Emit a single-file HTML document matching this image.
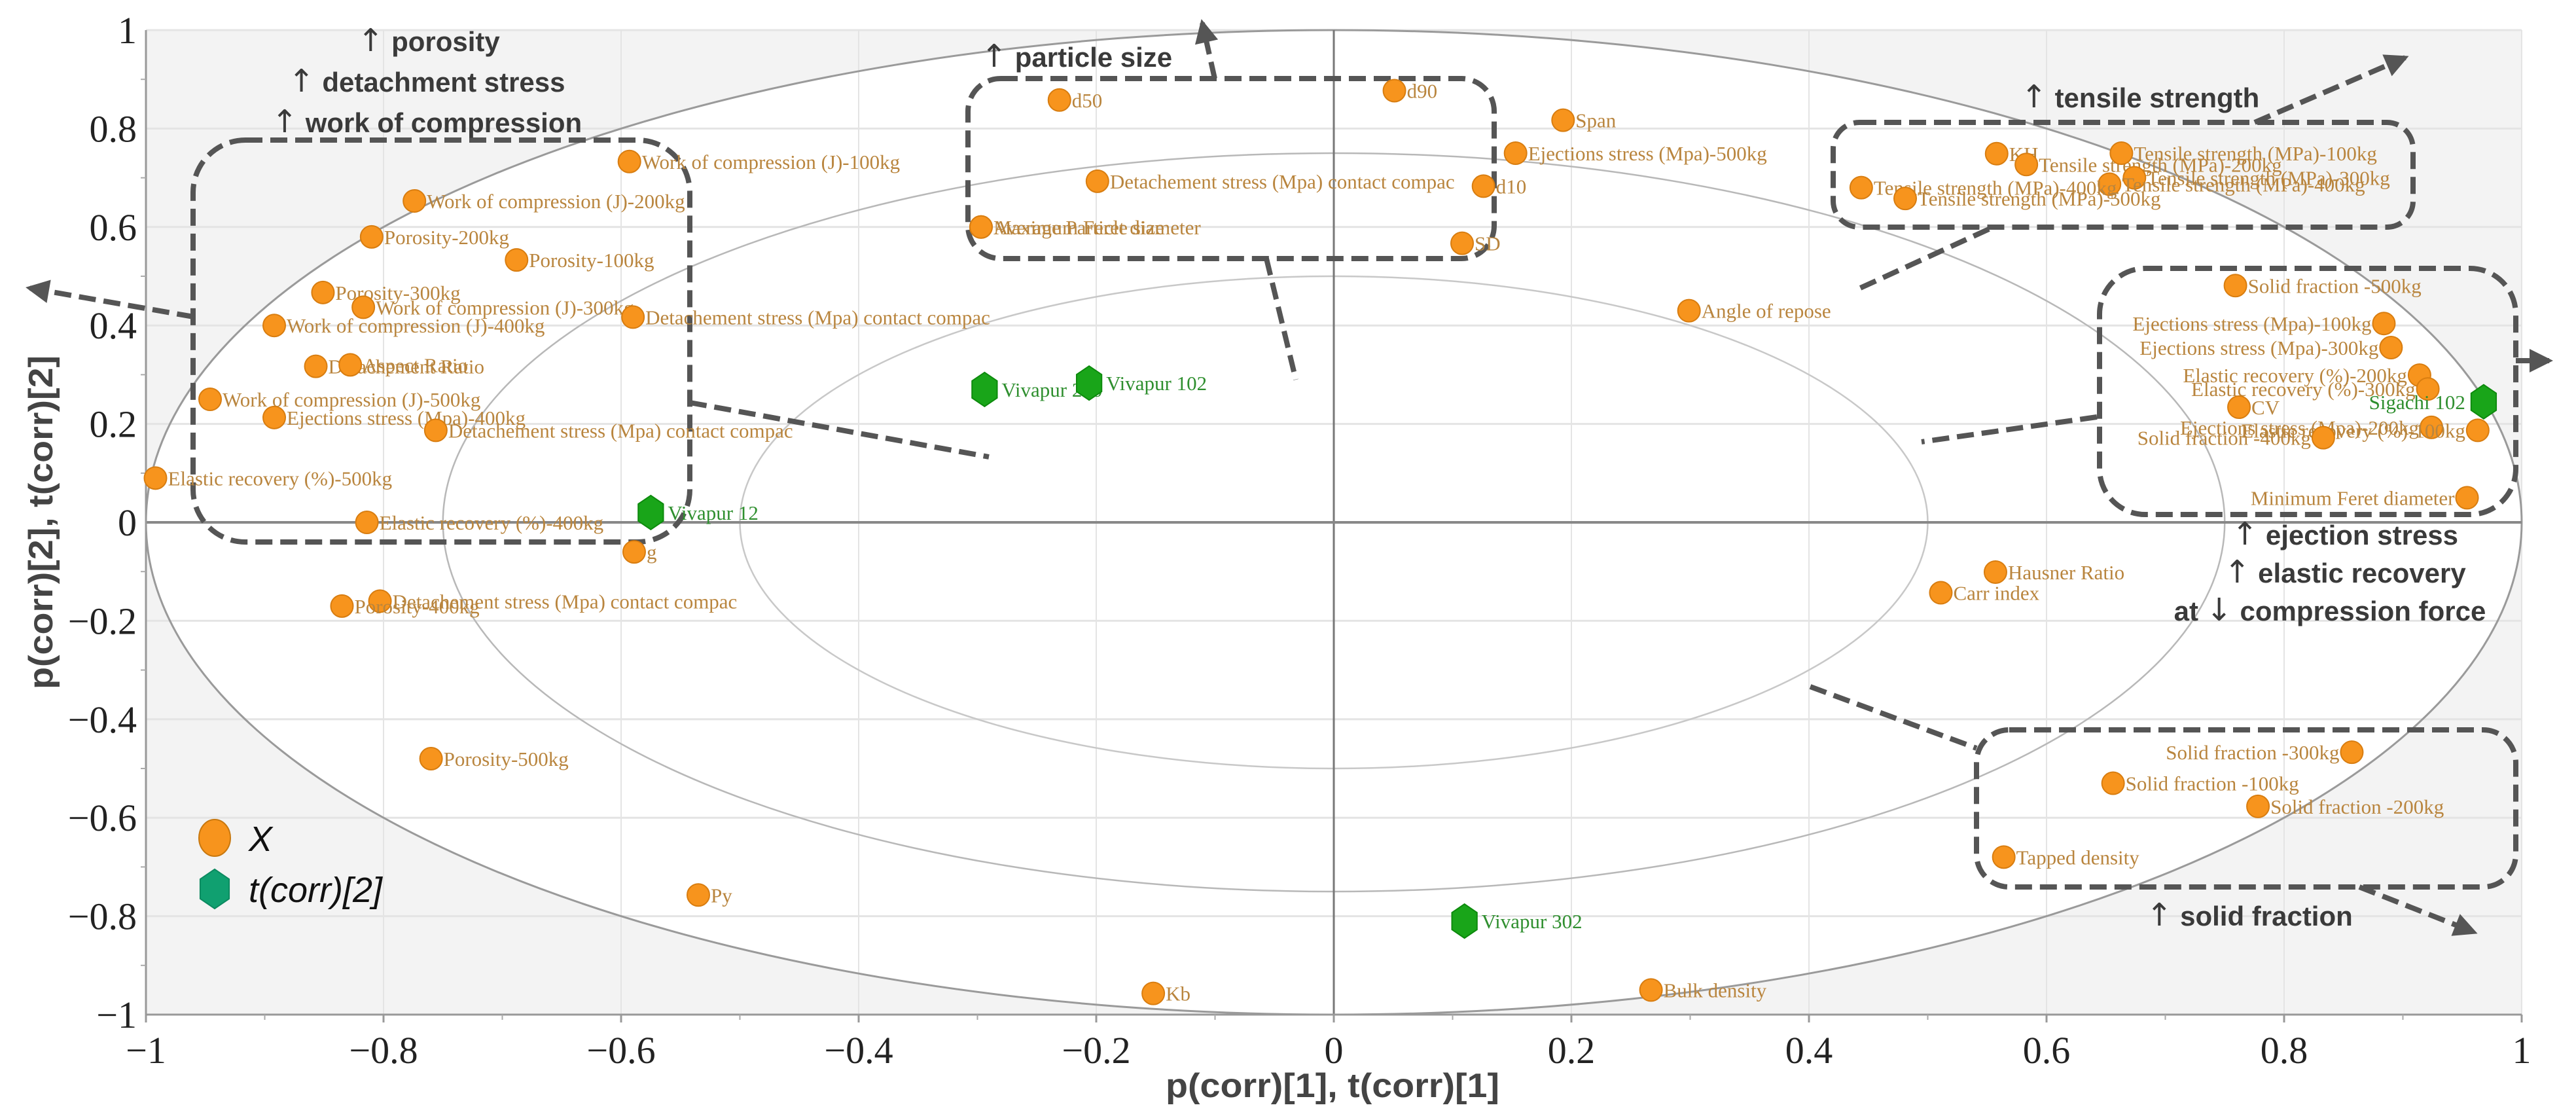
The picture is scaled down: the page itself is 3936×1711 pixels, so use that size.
<!DOCTYPE html>
<html><head><meta charset="utf-8"><style>
html,body{margin:0;padding:0;background:#fff;}
svg{display:block;}
.tick{font-family:"Liberation Serif",serif;font-size:58px;fill:#222;}
.lbl{font-family:"Liberation Serif",serif;font-size:31px;fill:#b9853e;}
.glbl{font-family:"Liberation Serif",serif;font-size:31px;fill:#2f8f2f;}
.ann{font-family:"Liberation Sans",sans-serif;font-size:42px;font-weight:bold;fill:#3a3a3a;}
.arr{font-family:"DejaVu Sans",sans-serif;font-size:48px;font-weight:normal;}
.title{font-family:"Liberation Sans",sans-serif;font-size:52px;font-weight:bold;fill:#444;}
</style></head><body>
<svg id="chart" xmlns="http://www.w3.org/2000/svg" width="3936" height="1711" viewBox="0 0 3936 1711"></svg>
<script>
const xNames = ["Work of compression (J)-100kg","Work of compression (J)-200kg","Porosity-200kg","Porosity-100kg","Porosity-300kg","Work of compression (J)-300kg","Work of compression (J)-400kg","Detachement stress  (Mpa) contact compac","Detachement Ratio","Aspect Ratio","Work of compression (J)-500kg","Ejections stress (Mpa)-400kg","Detachement stress  (Mpa) contact compac","Elastic recovery (%)-500kg","Elastic recovery (%)-400kg","g","Detachement stress  (Mpa) contact compac","Porosity-400kg","Porosity-500kg","Py","Kb","d50","Detachement stress  (Mpa) contact compac","Maximum Feret diameter","Average Particle size","d90","Span","Ejections stress (Mpa)-500kg","d10","SD","Angle of repose","KH","Tensile strength (MPa)-200kg","Tensile strength (MPa)-100kg","Tensile strength (MPa)-300kg","Tensile strength (MPa)-400kg","Tensile strength (MPa)-400kg","Tensile strength (MPa)-500kg","Solid fraction -500kg","Ejections stress (Mpa)-100kg","Ejections stress (Mpa)-300kg","Elastic recovery (%)-200kg","Elastic recovery (%)-300kg","CV","Ejections stress (Mpa)-200kg","Elastic recovery (%)-100kg","Solid fraction -400kg","Minimum Feret diameter","Hausner Ratio","Carr index","Solid fraction -300kg","Solid fraction -100kg","Solid fraction -200kg","Tapped density","Bulk density"];
const xVals = [-0.593,-0.774,-0.81,-0.688,-0.851,-0.817,-0.892,-0.59,-0.857,-0.828,-0.946,-0.892,-0.756,-0.992,-0.814,-0.589,-0.803,-0.835,-0.76,-0.535,-0.152,-0.231,-0.199,-0.297,-0.297,0.051,0.193,0.153,0.126,0.108,0.299,0.558,0.583,0.663,0.674,0.653,0.444,0.481,0.759,0.884,0.890,0.914,0.921,0.762,0.924,0.963,0.833,0.954,0.557,0.511,0.857,0.656,0.778,0.564,0.267];
const yVals = [0.733,0.653,0.58,0.533,0.467,0.437,0.4,0.417,0.317,0.32,0.25,0.213,0.187,0.09,0,-0.06,-0.16,-0.17,-0.48,-0.757,-0.957,0.858,0.693,0.6,0.6,0.877,0.817,0.75,0.683,0.567,0.43,0.749,0.727,0.750,0.70,0.687,0.68,0.658,0.481,0.404,0.355,0.299,0.271,0.234,0.193,0.187,0.172,0.05,-0.101,-0.143,-0.467,-0.53,-0.577,-0.68,-0.95];
const xLabelLeft = ["Ejections stress (Mpa)-100kg","Ejections stress (Mpa)-300kg","Elastic recovery (%)-200kg","Elastic recovery (%)-300kg","Ejections stress (Mpa)-200kg","Elastic recovery (%)-100kg","Solid fraction -400kg","Minimum Feret diameter","Solid fraction -300kg"];
const tNames = ["Vivapur 12","Vivapur 200","Vivapur 102","Vivapur 302","Sigachi 102"];
const tX = [-0.575,-0.294,-0.206,0.110,0.968];
const tY = [0.02,0.27,0.283,-0.81,0.245];
const xTicks = [-1,-0.8,-0.6,-0.4,-0.2,0,0.2,0.4,0.6,0.8,1];
const yTicks = [-1,-0.8,-0.6,-0.4,-0.2,0,0.2,0.4,0.6,0.8,1];
const xTickLabels = ["−1","−0.8","−0.6","−0.4","−0.2","0","0.2","0.4","0.6","0.8","1"];
const yTickLabels = ["−1","−0.8","−0.6","−0.4","−0.2","0","0.2","0.4","0.6","0.8","1"];

const L=223,R=3853,T=46,B=1550;
const sx=v=>L+(v+1)/2*(R-L);
const sy=v=>B-(v+1)/2*(B-T);
const NS="http://www.w3.org/2000/svg";
const svg=document.getElementById('chart');
function mk(tag,attrs,parent){const e=document.createElementNS(NS,tag);for(const k in attrs)e.setAttribute(k,attrs[k]);(parent||svg).appendChild(e);return e;}

let e;
e=mk('rect',{x:L,y:T,width:R-L,height:B-T,fill:'#f3f3f3'});


const cx=sx(0),cy=sy(0),rx=(R-L)/2,ry=(B-T)/2;
e=mk('ellipse',{cx:cx,cy:cy,rx:rx,ry:ry,fill:'#fff'});


const minor=[-0.9,-0.7,-0.5,-0.3,-0.1,0.1,0.3,0.5,0.7,0.9];
xTicks.forEach(v=>{e=mk('line',{x1:sx(v),x2:sx(v),y1:T,y2:B,stroke:'#e4e4e4','stroke-width':2});

});
yTicks.forEach(v=>{e=mk('line',{x1:L,x2:R,y1:sy(v),y2:sy(v),stroke:'#e4e4e4','stroke-width':3});

});
[[1,'#9a9a9a',3],[0.75,'#b8b8b8',2.5],[0.5,'#c8c8c8',2.5]].forEach(p=>{e=mk('ellipse',{cx:cx,cy:cy,rx:rx*p[0],ry:ry*p[0],fill:'none',stroke:p[1],'stroke-width':p[2]});

});
e=mk('line',{x1:sx(0),x2:sx(0),y1:T,y2:B,stroke:'#777','stroke-width':3});


e=mk('line',{x1:L,x2:R,y1:sy(0),y2:sy(0),stroke:'#888','stroke-width':4});


e=mk('line',{x1:L,x2:R,y1:B,y2:B,stroke:'#999','stroke-width':3});


e=mk('line',{x1:L,x2:L,y1:T,y2:B,stroke:'#999','stroke-width':3});


xTicks.forEach((v,i)=>{e=mk('line',{x1:sx(v),x2:sx(v),y1:B,y2:B+12,stroke:'#999','stroke-width':3});


e=mk('text',{x:sx(v),y:B+74,'text-anchor':'middle',class:'tick'});e.textContent=xTickLabels[i];

});
minor.forEach(v=>{e=mk('line',{x1:sx(v),x2:sx(v),y1:B,y2:B+8,stroke:'#aaa','stroke-width':2});


e=mk('line',{x1:L-8,x2:L,y1:sy(v),y2:sy(v),stroke:'#aaa','stroke-width':2});

});
yTicks.forEach((v,i)=>{e=mk('text',{x:L-14,y:sy(v)+20,'text-anchor':'end',class:'tick'});e.textContent=yTickLabels[i];

});
e=mk('text',{x:2036,y:1676,'text-anchor':'middle',class:'title',textLength:510,lengthAdjust:'spacingAndGlyphs'});e.textContent='p(corr)[1], t(corr)[1]';


e=mk('text',{x:0,y:0,'text-anchor':'middle',class:'title',transform:'translate(80,798) rotate(-90)',textLength:510,lengthAdjust:'spacingAndGlyphs'});e.textContent='p(corr)[2], t(corr)[2]';



const dash={fill:'none',stroke:'#555','stroke-width':8,'stroke-dasharray':'26 12'};
function box(x1,y1,x2,y2,r,name){e=mk('rect',Object.assign({x:x1,y:y1,width:x2-x1,height:y2-y1,rx:r,ry:r},dash));

}
box(295,214,1054,828,80,'porosity-group-box');
box(1479,120,2283,395,50,'particle-size-group-box');
box(2801,187,3687,347,40,'tensile-group-box');
box(3208,410,3844,786,70,'ejection-group-box');
box(3020,1115,3844,1355,50,'solid-fraction-group-box');
function seg(x1,y1,x2,y2,head,name){e=mk('line',Object.assign({x1:x1,y1:y1,x2:x2,y2:y2},dash));


if(head){const a=Math.atan2(y2-y1,x2-x1),s=30;
const p=[[x2+Math.cos(a)*6,y2+Math.sin(a)*6],[x2-s*Math.cos(a)+s*0.6*Math.sin(a),y2-s*Math.sin(a)-s*0.6*Math.cos(a)],[x2-s*Math.cos(a)-s*0.6*Math.sin(a),y2-s*Math.sin(a)+s*0.6*Math.cos(a)]];
e=mk('polygon',{points:p.map(q=>q.join(',')).join(' '),fill:'#555'});

}}
seg(296,484,45,440,true,'porosity-arrow');
seg(1054,615,1511,698,false,'porosity-connector');
seg(1856,120,1837,35,true,'particle-size-arrow');
seg(1935,395,1980,580,false,'particle-size-connector');
seg(3445,187,3675,88,true,'tensile-arrow');
seg(3039,350,2838,442,false,'tensile-connector');
seg(3844,551,3895,551,true,'ejection-arrow');
seg(3204,637,2936,675,false,'ejection-connector');
seg(2766,1049,3020,1143,false,'solid-fraction-connector');
seg(3605,1355,3780,1424,true,'solid-fraction-arrow');

function ann(pre,arrow,t,x,y,anchor,name){e=mk('text',{x:x,y:y,'text-anchor':anchor,class:'ann'});
if(pre){const s0=mk('tspan',{},e);s0.textContent=pre;}
const s1=mk('tspan',{class:'arr'},e);s1.textContent=arrow;
const s2=mk('tspan',{},e);s2.textContent=t;

}
ann('','↑',' porosity',655,78,'middle','porosity-annotation');
ann('','↑',' detachment stress',652,140,'middle','detachment-annotation');
ann('','↑',' work of compression',652,202,'middle','work-annotation');
ann('','↑',' particle size',1645,102,'middle','particle-size-annotation');
ann('','↑',' tensile strength',3270,164,'middle','tensile-annotation');
ann('','↑',' ejection stress',3583,832,'middle','ejection-annotation');
ann('','↑',' elastic recovery',3583,890,'middle','elastic-annotation');
ann('at ','↓',' compression force',3560,948,'middle','compression-annotation');
ann('','↑',' solid fraction',3437,1414,'middle','solid-fraction-annotation');

xNames.forEach((n,i)=>{const px=sx(xVals[i]),py=sy(yVals[i]);
e=mk('circle',{cx:px,cy:py,r:17,fill:'#f7941d',stroke:'#d87d10','stroke-width':2});


const left=xLabelLeft.includes(n);
e=mk('text',{x:left?px-19:px+19,y:py+11,'text-anchor':left?'end':'start',class:'lbl'});e.textContent=n;

});
function hex(x,y,r,fill){const p=[];for(let k=0;k<6;k++){const a=Math.PI/6+k*Math.PI/3;p.push((x+r*0.85*Math.cos(a))+','+(y+r*Math.sin(a)));}return mk('polygon',{points:p.join(' '),fill:fill,stroke:'#0d8a0d','stroke-width':2});}
tNames.forEach((n,i)=>{const px=sx(tX[i]),py=sy(tY[i]);
e=hex(px,py,26,'#19a519');


const left=n==='Sigachi 102';
e=mk('text',{x:left?px-28:px+26,y:py+11,'text-anchor':left?'end':'start',class:'glbl'});e.textContent=n;

});

e=mk('ellipse',{cx:328,cy:1280,rx:24,ry:28,fill:'#f7941d',stroke:'#c8780f','stroke-width':2});


e=mk('text',{x:380,y:1300,style:'font-family:"Liberation Sans",sans-serif;font-size:54px;font-style:italic;fill:#111'});e.textContent='X';


e=hex(328,1358,30,'#10a070');e.setAttribute('stroke','#0c8a60');


e=mk('text',{x:380,y:1378,style:'font-family:"Liberation Sans",sans-serif;font-size:54px;font-style:italic;fill:#111'});e.textContent='t(corr)[2]';


</script>
</body></html>
